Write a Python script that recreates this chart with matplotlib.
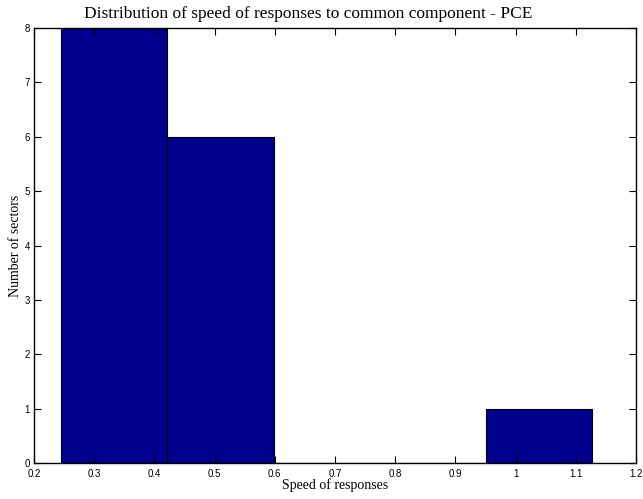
import matplotlib
matplotlib.use("Agg")
import matplotlib.pyplot as plt
import numpy as np

# histogram bins
bin_edges = [0.245, 0.4215, 0.598, 0.7745, 0.951, 1.1275]
counts = [8, 6, 0, 0, 1]
x_ticks = [0.2, 0.3, 0.4, 0.5, 0.6, 0.7, 0.8, 0.9, 1.0, 1.1, 1.2]
x_tick_labels = ["0.2", "0.3", "0.4", "0.5", "0.6", "0.7", "0.8", "0.9", "1", "1.1", "1.2"]
y_ticks = [0, 1, 2, 3, 4, 5, 6, 7, 8]

fig = plt.figure(figsize=(6.43, 4.99), dpi=100)
ax = fig.add_axes([34 / 643, 1 - 463 / 499, 602 / 643, 435 / 499])

edges = np.array(bin_edges)
ax.bar(edges[:-1], counts, width=np.diff(edges), align="edge",
       color="#00008f", edgecolor="black", linewidth=0.8)

ax.set_xlim(0.2, 1.2)
ax.set_ylim(0, 8)
ax.set_xticks(x_ticks)
ax.set_xticklabels(x_tick_labels)
ax.set_yticks(y_ticks)
ax.tick_params(direction="in", top=True, right=True, length=5, width=0.8,
               labelsize=7)
ax.tick_params(axis="x", pad=4)
ax.tick_params(axis="y", pad=3)
for lbl in ax.get_xticklabels() + ax.get_yticklabels():
    lbl.set_family("Liberation Sans")
for s in ax.spines.values():
    s.set_linewidth(1.0)

ax.set_title("Distribution of speed of responses to common component - PCE",
             family="Liberation Serif", fontsize=12.5, pad=7, x=0.455)
ax.set_xlabel("Speed of responses", family="Liberation Serif", fontsize=10, labelpad=0)
ax.set_ylabel("Number of sectors", family="Liberation Serif", fontsize=10, labelpad=2)

fig.savefig("out.png", dpi=100)
